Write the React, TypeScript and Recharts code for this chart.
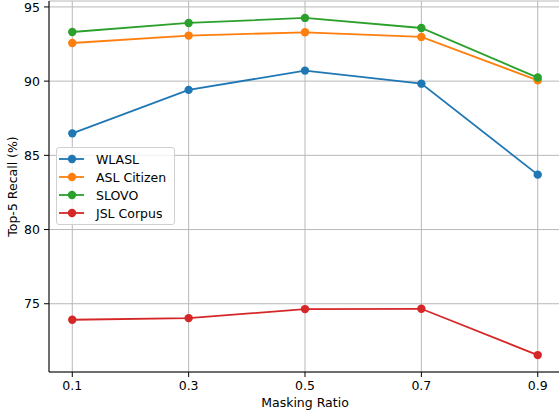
import {LineChart, Line, XAxis, YAxis, CartesianGrid, Legend} from 'recharts';

const ratios = [0.1, 0.3, 0.5, 0.7, 0.9];
const wlasl = [86.48, 89.41, 90.71, 89.83, 83.7];
const aslCitizen = [92.57, 93.07, 93.29, 92.98, 90.05];
const slovo = [93.31, 93.92, 94.26, 93.58, 90.24];
const jslCorpus = [73.92, 74.03, 74.64, 74.66, 71.54];
const yTicks = [75, 80, 85, 90, 95];

const SERIES = [
  {key: 'wlasl', name: 'WLASL', color: '#1f77b4'},
  {key: 'asl', name: 'ASL Citizen', color: '#ff7f0e'},
  {key: 'slovo', name: 'SLOVO', color: '#2ca02c'},
  {key: 'jsl', name: 'JSL Corpus', color: '#d62728'},
];

const data = ratios.map((r, i) => ({
  ratio: r,
  wlasl: wlasl[i],
  asl: aslCitizen[i],
  slovo: slovo[i],
  jsl: jslCorpus[i],
}));

const FONT = 'DejaVu Sans';
const FS = 12.5;
const tickStyle = {fontFamily: FONT, fontSize: FS, fill: '#000'};

function LegendBox() {
  return (
    <div
      style={{
        border: '1px solid #d0d0d0',
        borderRadius: 3,
        background: 'rgba(255,255,255,0.8)',
        padding: '2px 8px 2px 1px',
        fontFamily: FONT,
        fontSize: FS,
        color: '#000',
      }}
    >
      {SERIES.map((s) => (
        <div key={s.key} style={{display: 'flex', alignItems: 'center', height: 18}}>
          <svg width={28} height={18} style={{marginRight: 10}}>
            <line x1={1} y1={9} x2={26} y2={9} stroke={s.color} strokeWidth={1.8} />
            <circle cx={14} cy={9} r={4.2} fill={s.color} />
          </svg>
          <span style={{whiteSpace: 'nowrap'}}>{s.name}</span>
        </div>
      ))}
    </div>
  );
}

export default function App() {
  return (
    <div style={{position: 'absolute', left: 0, top: 0, width: 559, height: 414, overflow: 'hidden', background: '#fff'}}>
      <LineChart width={575} height={414} data={data} margin={{top: 1, right: 14, bottom: 0, left: 0}}>
        <CartesianGrid stroke="#b8b8b8" strokeWidth={1} />
        <XAxis
          dataKey="ratio"
          type="number"
          domain={[0.06, 0.94]}
          ticks={ratios}
          allowDataOverflow
          height={42}
          tickSize={5}
          tickMargin={4}
          tick={tickStyle}
          stroke="#000"
          tickFormatter={(v: number) => v.toFixed(1)}
          label={{value: 'Masking Ratio', position: 'insideBottom', offset: 7, style: {fontFamily: FONT, fontSize: FS, fill: '#000'}}}
        />
        <XAxis xAxisId="top" orientation="top" type="number" domain={[0.06, 0.94]} height={0} tick={false} tickLine={false} stroke="#000" />
        <YAxis
          type="number"
          domain={[70.4, 95.4]}
          ticks={yTicks}
          allowDataOverflow
          width={49}
          tickSize={5}
          tickMargin={4}
          tick={tickStyle}
          stroke="#000"
          label={{value: 'Top-5 Recall (%)', angle: -90, position: 'center', dx: -12, style: {fontFamily: FONT, fontSize: FS, fill: '#000'}}}
        />
        <Legend
          layout="vertical"
          align="center"
          verticalAlign="middle"
          content={() => <LegendBox />}
          wrapperStyle={{left: 56, top: 147, width: 'auto', height: 'auto'}}
        />
        {SERIES.map((s) => (
          <Line
            key={s.key}
            dataKey={s.key}
            name={s.name}
            stroke={s.color}
            strokeWidth={1.8}
            dot={{r: 4.2, fill: s.color, stroke: s.color, strokeWidth: 0}}
            activeDot={false}
            isAnimationActive={false}
          />
        ))}
      </LineChart>
    </div>
  );
}
